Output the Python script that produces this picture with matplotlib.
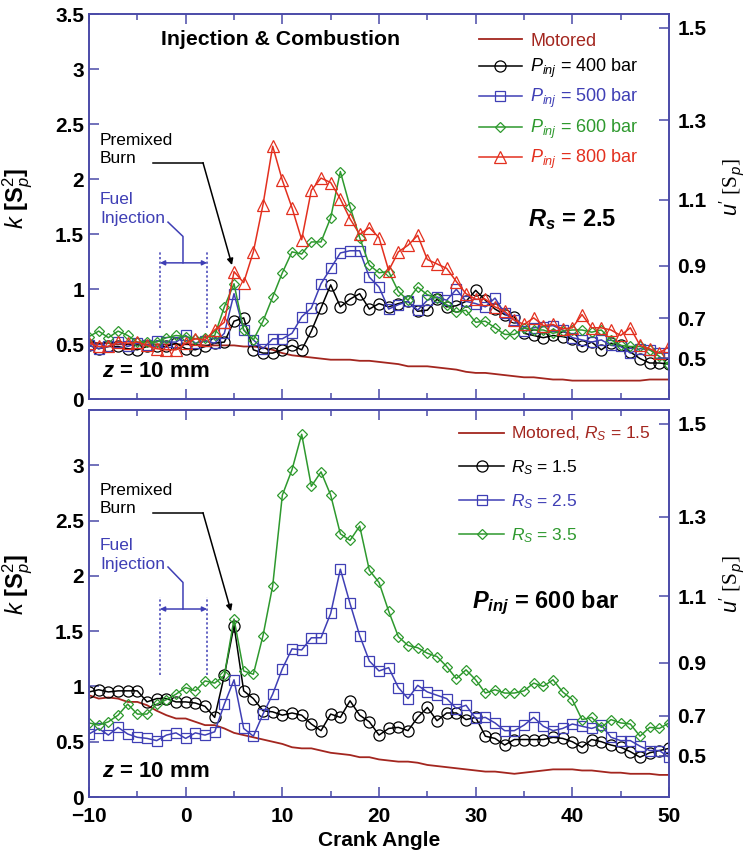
import matplotlib
matplotlib.use('Agg')
import matplotlib.pyplot as plt
import numpy as np

plt.rcParams['font.family'] = ['Liberation Sans', 'DejaVu Sans']
plt.rcParams['mathtext.fontset'] = 'custom'
plt.rcParams['mathtext.rm'] = 'Liberation Sans'
plt.rcParams['mathtext.it'] = 'Liberation Sans:italic'
plt.rcParams['mathtext.bf'] = 'Liberation Sans:bold'
plt.rcParams['mathtext.bfit'] = 'Liberation Sans:italic:bold'

# crank angle, one sample per degree
crank = list(range(-10, 51))

# --- top panel: R_s = 2.5, different injection pressures ---
top_motored = [0.52, 0.51, 0.51, 0.50, 0.50, 0.50, 0.50, 0.50, 0.50, 0.50,
               0.50, 0.50, 0.49, 0.49, 0.49, 0.49, 0.48, 0.48, 0.47, 0.45,
               0.42, 0.40, 0.39, 0.38, 0.37, 0.36, 0.36, 0.36, 0.35, 0.35,
               0.34, 0.33, 0.32, 0.30, 0.30, 0.30, 0.29, 0.28, 0.27, 0.25,
               0.24, 0.24, 0.23, 0.22, 0.21, 0.20, 0.20, 0.19, 0.18, 0.18,
               0.17, 0.17, 0.17, 0.17, 0.17, 0.17, 0.17, 0.17, 0.18, 0.18, 0.18]
top_p400 = [0.49, 0.46, 0.48, 0.48, 0.46, 0.45, 0.48, 0.48, 0.48, 0.51,
            0.46, 0.45, 0.48, 0.51, 0.52, 0.71, 0.74, 0.45, 0.42, 0.42,
            0.45, 0.49, 0.45, 0.62, 0.83, 1.04, 0.84, 0.91, 0.96, 0.82,
            0.87, 0.84, 0.87, 0.89, 0.80, 0.81, 0.91, 0.84, 0.85, 0.89,
            0.99, 0.90, 0.82, 0.77, 0.75, 0.60, 0.58, 0.56, 0.58, 0.57,
            0.55, 0.48, 0.52, 0.45, 0.51, 0.49, 0.43, 0.37, 0.33, 0.33, 0.32]
top_p500 = [0.49, 0.46, 0.48, 0.52, 0.48, 0.51, 0.49, 0.53, 0.52, 0.52,
            0.58, 0.51, 0.53, 0.51, 0.60, 0.96, 0.63, 0.54, 0.46, 0.55,
            0.55, 0.60, 0.75, 0.83, 1.05, 1.19, 1.33, 1.35, 1.35, 1.11,
            1.02, 0.82, 0.86, 0.89, 0.81, 0.90, 0.93, 0.90, 1.00, 0.89,
            0.87, 0.84, 0.92, 0.78, 0.72, 0.62, 0.65, 0.66, 0.67, 0.63,
            0.56, 0.54, 0.52, 0.54, 0.49, 0.48, 0.42, 0.46, 0.45, 0.42, 0.42]
top_p600 = [0.57, 0.62, 0.56, 0.62, 0.58, 0.52, 0.52, 0.52, 0.56, 0.58,
            0.57, 0.55, 0.56, 0.58, 0.84, 1.05, 0.63, 0.54, 0.71, 0.93,
            1.15, 1.34, 1.32, 1.43, 1.43, 1.65, 2.07, 1.75, 1.47, 1.22,
            1.15, 1.16, 0.98, 0.90, 1.02, 0.95, 0.92, 0.86, 0.79, 0.81,
            0.70, 0.71, 0.65, 0.59, 0.59, 0.65, 0.63, 0.63, 0.60, 0.62,
            0.63, 0.63, 0.61, 0.63, 0.54, 0.49, 0.48, 0.48, 0.45, 0.39, 0.31]
top_p800 = [0.51, 0.48, 0.48, 0.52, 0.51, 0.52, 0.49, 0.46, 0.45, 0.45,
            0.51, 0.55, 0.54, 0.63, 0.70, 1.16, 1.06, 1.34, 1.77, 2.30,
            1.99, 1.74, 1.45, 1.90, 2.01, 1.97, 1.82, 1.64, 1.50, 1.56,
            1.47, 1.17, 1.34, 1.40, 1.49, 1.27, 1.23, 1.19, 1.07, 0.96,
            0.91, 0.91, 0.84, 0.80, 0.72, 0.68, 0.74, 0.67, 0.68, 0.64,
            0.65, 0.77, 0.65, 0.65, 0.63, 0.58, 0.65, 0.49, 0.46, 0.42, 0.48]

# --- bottom panel: P_inj = 600 bar, different swirl ratios ---
bot_motored = [0.92, 0.89, 0.90, 0.89, 0.86, 0.86, 0.83, 0.78, 0.74, 0.71,
               0.71, 0.68, 0.65, 0.65, 0.62, 0.58, 0.56, 0.54, 0.52, 0.50,
               0.48, 0.45, 0.44, 0.44, 0.42, 0.40, 0.39, 0.38, 0.36, 0.36,
               0.34, 0.33, 0.32, 0.32, 0.31, 0.29, 0.28, 0.27, 0.26, 0.25,
               0.24, 0.23, 0.23, 0.22, 0.21, 0.22, 0.23, 0.24, 0.25, 0.25,
               0.25, 0.24, 0.24, 0.23, 0.22, 0.22, 0.21, 0.21, 0.21, 0.20, 0.20]
bot_rs15 = [0.95, 0.97, 0.95, 0.96, 0.96, 0.96, 0.86, 0.89, 0.89, 0.86,
            0.86, 0.85, 0.82, 0.72, 1.10, 1.55, 0.96, 0.89, 0.78, 0.77,
            0.74, 0.76, 0.74, 0.66, 0.60, 0.75, 0.72, 0.87, 0.74, 0.68,
            0.56, 0.62, 0.63, 0.60, 0.72, 0.81, 0.69, 0.76, 0.76, 0.70,
            0.72, 0.55, 0.53, 0.47, 0.52, 0.52, 0.52, 0.52, 0.54, 0.53,
            0.50, 0.45, 0.52, 0.50, 0.47, 0.45, 0.41, 0.36, 0.40, 0.42, 0.44]
bot_rs25 = [0.57, 0.62, 0.56, 0.63, 0.57, 0.54, 0.53, 0.51, 0.56, 0.58,
            0.53, 0.58, 0.56, 0.59, 0.84, 1.06, 0.62, 0.55, 0.75, 0.93,
            1.16, 1.34, 1.33, 1.44, 1.44, 1.66, 2.06, 1.75, 1.46, 1.23,
            1.14, 1.17, 0.99, 0.89, 1.01, 0.95, 0.92, 0.89, 0.80, 0.83,
            0.71, 0.72, 0.67, 0.60, 0.60, 0.65, 0.72, 0.64, 0.60, 0.62,
            0.66, 0.64, 0.62, 0.65, 0.54, 0.51, 0.51, 0.46, 0.42, 0.42, 0.36]
bot_rs35 = [0.67, 0.65, 0.68, 0.74, 0.84, 0.75, 0.75, 0.84, 0.88, 0.93,
            0.99, 0.96, 1.05, 1.03, 1.10, 1.61, 1.14, 1.11, 1.46, 1.91,
            2.73, 2.96, 3.28, 2.81, 2.94, 2.73, 2.38, 2.32, 2.45, 2.05,
            1.94, 1.68, 1.45, 1.37, 1.35, 1.30, 1.27, 1.18, 1.07, 1.15,
            1.06, 0.94, 0.97, 0.94, 0.94, 0.96, 1.03, 1.00, 1.06, 0.95,
            0.88, 0.70, 0.72, 0.63, 0.70, 0.67, 0.66, 0.55, 0.63, 0.62, 0.67]

u_ticks = [0.5, 0.7, 0.9, 1.1, 1.3, 1.5]

c_mot = '#a3261f'
c_blk = 'black'
c_blu = '#3f3fb5'
c_grn = '#2e992e'
c_red = '#e3301f'
c_axis = '#4a4aa8'

fig = plt.figure(figsize=(7.5, 8.56), dpi=100)
ax_top = fig.add_axes([0.1187, 0.5335, 0.7733, 0.4500])
ax_bot = fig.add_axes([0.1187, 0.0689, 0.7733, 0.4522])

mk = dict(mfc='none', lw=1.1, mew=0.9)


def style_axes(ax, ylabels, label_y):
    ax.set_xlim(-10, 50)
    ax.set_ylim(0, 3.5)
    for s in ax.spines.values():
        s.set_color(c_axis)
        s.set_linewidth(1.2)
    ax.set_xticks(range(-10, 51, 10))
    ax.set_xticks(range(-5, 50, 10), minor=True)
    yt = [0, 0.5, 1, 1.5, 2, 2.5, 3, 3.5] if ylabels else [0, 0.5, 1, 1.5, 2, 2.5, 3]
    ax.set_yticks(yt)
    ax.set_yticklabels([('%g' % v) for v in yt])
    ax.tick_params(which='both', direction='in', color=c_axis, top=True, right=False,
                   labelsize=15, width=1.1)
    ax.tick_params(which='major', length=7)
    ax.tick_params(which='minor', length=4)
    ax.tick_params(axis='x', pad=7)
    for lab in ax.get_yticklabels() + ax.get_xticklabels():
        lab.set_fontweight('bold')
    ax.set_ylabel(r'$k$ [S$_{p}^{2}$]', fontsize=17, fontweight='bold')
    ax.yaxis.set_label_coords(-0.094, label_y)

    ax2 = ax.twinx()
    ax2.set_ylim(0, 3.5)
    ax2.set_yticks([1.5 * u ** 2 for u in u_ticks])
    ax2.set_yticklabels([('%.1f' % u) for u in u_ticks])
    ax2.tick_params(direction='in', color=c_axis, length=7, width=1.1, labelsize=15, pad=6)
    for lab in ax2.get_yticklabels():
        lab.set_fontweight('bold')
    for s in ax2.spines.values():
        s.set_color(c_axis)
        s.set_linewidth(1.2)
    ax2.set_ylabel(r"$u'$ [S$_{p}$]", fontsize=15.5, rotation=90,
                   fontfamily=['Liberation Serif', 'DejaVu Serif'])
    ax2.yaxis.set_label_coords(1.083, 0.55)
    return ax2


def annotate_injection(ax, k_text1, k_text2, arrow_y, tip, br_top, br_mid, dbl_y, dot_lo, dot_hi):
    ax.text(-8.86, k_text1, 'Premixed\nBurn', fontsize=12.5, ha='left', va='center',
            linespacing=1.3, color='black')
    ax.text(-8.86, k_text2, 'Fuel\nInjection', fontsize=12.5, ha='left', va='center',
            linespacing=1.3, color=c_blu)
    ax.plot([-3.38, 1.79], [arrow_y, arrow_y], color='black', lw=1.1)
    ax.annotate('', xy=tip, xytext=(1.79, arrow_y),
                arrowprops=dict(arrowstyle='-|>', lw=1.1, color='black',
                                mutation_scale=9, shrinkA=0, shrinkB=0))
    ax.plot([-1.83, -0.28, -0.28], [br_top, br_mid, dbl_y], color=c_blu, lw=1.1)
    ax.annotate('', xy=(-2.66, dbl_y), xytext=(2.21, dbl_y),
                arrowprops=dict(arrowstyle='<|-|>', lw=1.1, color=c_blu,
                                mutation_scale=7, shrinkA=0, shrinkB=0))
    for xd in (-2.66, 2.21):
        ax.plot([xd, xd], [dot_lo, dot_hi], color=c_blu, lw=1.1, ls=(0, (1.5, 1.5)))


# ---------- top panel ----------
ax_top.plot(crank, top_motored, color=c_mot, lw=1.3, label='Motored')
ax_top.plot(crank, top_p400, color=c_blk, marker='o', ms=8, label=r'$P_{inj}$ = 400 bar', **mk)
ax_top.plot(crank, top_p500, color=c_blu, marker='s', ms=7.5, label=r'$P_{inj}$ = 500 bar', **mk)
ax_top.plot(crank, top_p600, color=c_grn, marker='D', ms=5.5, label=r'$P_{inj}$ = 600 bar', **mk)
ax_top.plot(crank, top_p800, color=c_red, marker='^', ms=8, label=r'$P_{inj}$ = 800 bar', **mk)
style_axes(ax_top, True, 0.52)
ax_top.tick_params(labelbottom=False)
ax_top.legend(loc='upper left', bbox_to_anchor=(0.672, 0.952), frameon=False,
              fontsize=13, numpoints=1, handlelength=2.4, handletextpad=0.45,
              labelspacing=0.4, borderpad=0, borderaxespad=0, labelcolor='linecolor')
ax_top.text(9.8, 3.27, 'Injection & Combustion', fontsize=15.3, fontweight='bold',
            ha='center', va='center')
ax_top.text(40.0, 1.63, r'$\mathbfit{R}_{\mathbfit{s}}$ = 2.5', fontsize=17, fontweight='bold',
            ha='center', va='center')
ax_top.text(-8.7, 0.25, r'$\mathbfit{z}$ = 10 mm', fontsize=16, fontweight='bold',
            ha='left', va='center')
annotate_injection(ax_top, 2.27, 1.73, 2.15, (4.79, 1.22), 1.61, 1.48, 1.24, 0.65, 1.34)

# ---------- bottom panel ----------
ax_bot.plot(crank, bot_motored, color=c_mot, lw=1.3, label=r'Motored, $R_{S}$ = 1.5')
ax_bot.plot(crank, bot_rs15, color=c_blk, marker='o', ms=8, label=r'$R_{S}$ = 1.5', **mk)
ax_bot.plot(crank, bot_rs25, color=c_blu, marker='s', ms=7.5, label=r'$R_{S}$ = 2.5', **mk)
ax_bot.plot(crank, bot_rs35, color=c_grn, marker='D', ms=5.5, label=r'$R_{S}$ = 3.5', **mk)
style_axes(ax_bot, False, 0.548)
ax_bot.set_xlabel('Crank Angle', fontsize=15, fontweight='bold', labelpad=4)
ax_bot.legend(loc='upper left', bbox_to_anchor=(0.638, 0.962), frameon=False,
              fontsize=12.5, numpoints=1, handlelength=2.6, handletextpad=0.4,
              labelspacing=0.87, borderpad=0, borderaxespad=0, labelcolor='linecolor')
ax_bot.text(37.2, 1.76, r'$\mathbfit{P}_{\mathbfit{inj}}$ = 600 bar', fontsize=17,
            fontweight='bold', ha='center', va='center')
ax_bot.text(-8.7, 0.23, r'$\mathbfit{z}$ = 10 mm', fontsize=16, fontweight='bold',
            ha='left', va='center')
annotate_injection(ax_bot, 2.69, 2.19, 2.57, (4.69, 1.68), 2.08, 1.94, 1.70, 1.10, 1.81)

fig.savefig('out.png', dpi=100)
